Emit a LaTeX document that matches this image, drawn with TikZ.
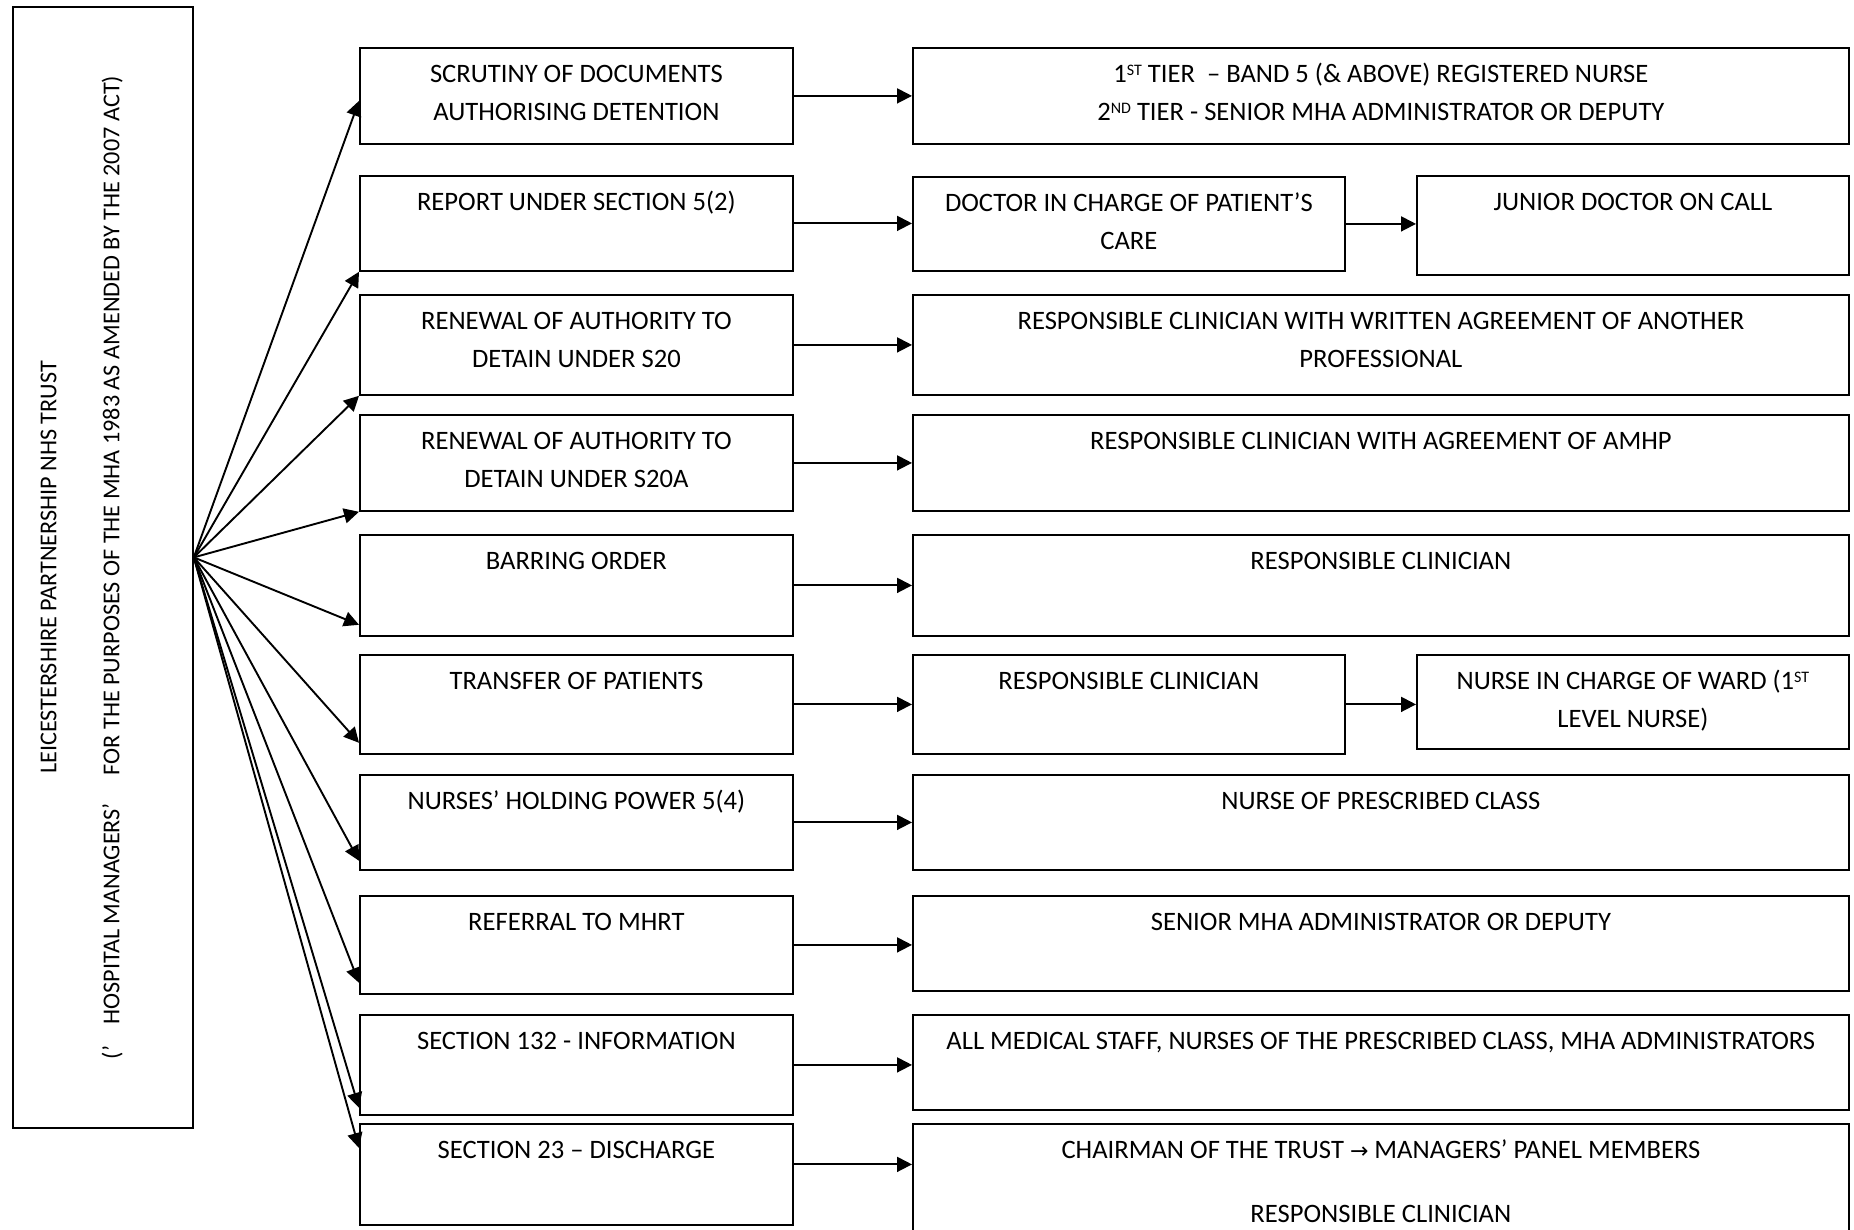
\documentclass[tikz,border=0pt]{standalone}
\usepackage{graphicx}
\usepackage{fontspec}
\setmainfont{Carlito}
\newfontfamily\symf{DejaVu Sans}
\usetikzlibrary{arrows.meta}
\newcommand{\sups}[1]{\raisebox{0.62ex}{\fontsize{8}{8}\selectfont #1}}
\newcommand{\bxtext}[3]{\parbox[t][#2][t]{#1}{\centering\rule{0pt}{17.5pt}#3}}
\tikzset{
  box/.style={draw, line width=0.9pt, inner sep=0pt, anchor=north west,
    font=\fontsize{13.3}{19}\selectfont},
  arr/.style={line width=0.95pt, -{Triangle[length=7.5pt,width=7.5pt]}}
}
\begin{document}
\begin{tikzpicture}[x=0.5pt,y=-0.5pt]
\clip (0,0) rectangle (1854,1230);
% left box
\node[box] (lt) at (12,6) {\rotatebox{90}{\parbox[t][90pt][t]{560.5pt}{\fontsize{12.1}{19}\selectfont\centering\rule{0pt}{21.75pt}LEICESTERSHIRE PARTNERSHIP NHS TRUST\\[12.5pt](’\hspace{10.5pt}HOSPITAL MANAGERS’\hspace{14pt}FOR THE PURPOSES OF THE MHA 1983 AS AMENDED BY THE 2007 ACT)}}};
% column 1
\node[box] (r1) at (359,47) {\bxtext{216.5pt}{48pt}{SCRUTINY OF DOCUMENTS\\AUTHORISING DETENTION}};
\node[box] (r2) at (359,175) {\bxtext{216.5pt}{47.5pt}{REPORT UNDER SECTION 5(2)}};
\node[box] (r3) at (359,294) {\bxtext{216.5pt}{50pt}{RENEWAL OF AUTHORITY TO\\DETAIN UNDER S20}};
\node[box] (r4) at (359,414) {\bxtext{216.5pt}{48pt}{RENEWAL OF AUTHORITY TO\\DETAIN UNDER S20A}};
\node[box] (r5) at (359,534) {\bxtext{216.5pt}{50.5pt}{BARRING ORDER}};
\node[box] (r6) at (359,654) {\bxtext{216.5pt}{49.5pt}{TRANSFER OF PATIENTS}};
\node[box] (r7) at (359,774) {\bxtext{216.5pt}{47.5pt}{NURSES’ HOLDING POWER 5(4)}};
\node[box] (r8) at (359,895) {\bxtext{216.5pt}{49pt}{REFERRAL TO MHRT}};
\node[box] (r9) at (359,1014) {\bxtext{216.5pt}{50pt}{SECTION 132 - INFORMATION}};
\node[box] (r10) at (359,1123) {\bxtext{216.5pt}{50.5pt}{SECTION 23 – DISCHARGE}};
% right side
\node[box] (w1) at (912,47) {\bxtext{468pt}{48pt}{1\sups{ST} TIER \ – BAND 5 (\& ABOVE) REGISTERED NURSE\\2\sups{ND} TIER - SENIOR MHA ADMINISTRATOR OR DEPUTY}};
\node[box] (d2) at (912,176) {\bxtext{216pt}{47pt}{DOCTOR IN CHARGE OF PATIENT’S\\CARE}};
\node[box] (j2) at (1416,175) {\bxtext{216pt}{49.5pt}{JUNIOR DOCTOR ON CALL}};
\node[box] (w3) at (912,294) {\bxtext{468pt}{50pt}{RESPONSIBLE CLINICIAN WITH WRITTEN AGREEMENT OF ANOTHER\\PROFESSIONAL}};
\node[box] (w4) at (912,414) {\bxtext{468pt}{48pt}{RESPONSIBLE CLINICIAN WITH AGREEMENT OF AMHP}};
\node[box] (w5) at (912,534) {\bxtext{468pt}{50.5pt}{RESPONSIBLE CLINICIAN}};
\node[box] (rc6) at (912,654) {\bxtext{216pt}{49.5pt}{RESPONSIBLE CLINICIAN}};
\node[box] (n6) at (1416,654) {\bxtext{216pt}{47pt}{NURSE IN CHARGE OF WARD (1\sups{ST}\\LEVEL NURSE)}};
\node[box] (w7) at (912,774) {\bxtext{468pt}{47.5pt}{NURSE OF PRESCRIBED CLASS}};
\node[box] (w8) at (912,895) {\bxtext{468pt}{47.5pt}{SENIOR MHA ADMINISTRATOR OR DEPUTY}};
\node[box] (w9) at (912,1014) {\bxtext{468pt}{47.5pt}{ALL MEDICAL STAFF, NURSES OF THE PRESCRIBED CLASS, MHA ADMINISTRATORS}};
\node[box] (w10) at (912,1123) {\bxtext{468pt}{60pt}{CHAIRMAN OF THE TRUST {\symf\fontsize{11}{11}\selectfont →} MANAGERS’ PANEL MEMBERS\\[13pt]RESPONSIBLE CLINICIAN}};
% horizontal connectors
\draw[arr] (r1.east) -- (r1.east -| w1.west);
\draw[arr] (r2.east) -- (r2.east -| d2.west);
\draw[arr] (d2.east) -- (d2.east -| j2.west);
\draw[arr] (r3.east) -- (r3.east -| w3.west);
\draw[arr] (r4.east) -- (r4.east -| w4.west);
\draw[arr] (r5.east) -- (r5.east -| w5.west);
\draw[arr] (r6.east) -- (r6.east -| rc6.west);
\draw[arr] (rc6.east) -- (rc6.east -| n6.west);
\draw[arr] (r7.east) -- (r7.east -| w7.west);
\draw[arr] (r8.east) -- (r8.east -| w8.west);
\draw[arr] (r9.east) -- (r9.east -| w9.west);
\draw[arr] ([yshift=5pt]r10.east) -- ([yshift=5pt]r10.east -| w10.west);
% fan
\coordinate (src) at ([yshift=5pt]lt.east);
\draw[arr] (src) -- ([yshift=-2.5pt]r1.west);
\draw[arr] (src) -- (r2.south west);
\draw[arr] (src) -- (r3.south west);
\draw[arr] (src) -- (r4.south west);
\draw[arr] (src) -- ([yshift=6pt]r5.south west);
\draw[arr] (src) -- ([yshift=6pt]r6.south west);
\draw[arr] (src) -- ([yshift=5pt]r7.south west);
\draw[arr] (src) -- ([yshift=6pt]r8.south west);
\draw[arr] (src) -- ([yshift=4pt]r9.south west);
\draw[arr] (src) -- ([yshift=-12.5pt]r10.north west);
\end{tikzpicture}
\end{document}
